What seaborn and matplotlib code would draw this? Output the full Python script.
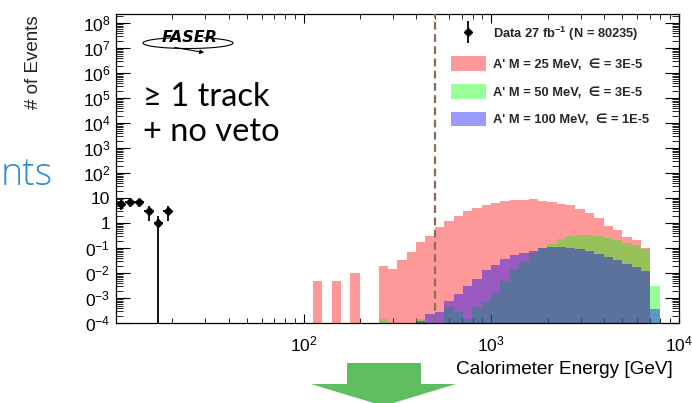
import numpy as np
import pandas as pd
import matplotlib
matplotlib.use("Agg")
import matplotlib.pyplot as plt
import seaborn as sns
from matplotlib.patches import Patch, Polygon, Arc, FancyArrowPatch
from matplotlib.lines import Line2D
from matplotlib.legend_handler import HandlerTuple
from matplotlib.ticker import FixedLocator, FixedFormatter, LogLocator, NullFormatter

# ---------------- data ----------------
# data histogram: log10 bin edges (0.05 decade bins) and observed counts
data_edges_log10 = [1.00, 1.05, 1.10, 1.15, 1.20, 1.25, 1.30]
data_counts = [6, 7, 7, 3, 1, 3]

# signal histograms: log10 bin edges 2.05 ... 3.90 (0.05 decade bins)
sig_edges_log10 = [round(2.05 + 0.05 * i, 2) for i in range(38)]
sig_25MeV = [4.9e-3, 0, 4.9e-3, 0, 1.0e-2, 0, 0, 1.95e-2, 1.48e-2, 3.4e-2,
             6.9e-2, 0.178, 0.31, 0.69, 1.26, 1.9, 3.0, 4.2, 5.4, 6.5,
             7.8, 8.5, 8.9, 9.3, 7.9, 7.1, 5.9, 5.4, 3.7, 2.5,
             1.58, 0.79, 0.54, 0.29, 0.21, 0.105, 0]
sig_50MeV = [0, 0, 0, 0, 0, 0, 0, 1.5e-4, 0, 0,
             0, 1.5e-4, 0, 0, 4.5e-4, 2.8e-4, 1.55e-4, 4.4e-4, 7.2e-4, 1.6e-3,
             5.0e-3, 1.5e-2, 2.75e-2, 6.3e-2, 0.10, 0.15, 0.24, 0.30, 0.35, 0.33,
             0.30, 0.25, 0.21, 0.16, 0.13, 0.093, 3.1e-3]
sig_100MeV = [0, 0, 0, 0, 0, 0, 0, 0, 0, 0,
              0, 1.2e-4, 2.3e-4, 2.9e-4, 7.8e-4, 1.45e-3, 3.2e-3, 6.0e-3, 1.35e-2, 2.2e-2,
              3.7e-2, 5.2e-2, 6.3e-2, 7.9e-2, 0.105, 0.115, 0.11, 0.105, 0.093, 0.078,
              0.060, 0.045, 0.034, 0.024, 0.018, 0.0123, 3.8e-4]

cut_energy_gev = 500

legend_labels = ["Data 27 fb$^{\\mathbf{-1}}$ (N = 80235)",
                 "A' M = 25 MeV,  \u2208 = 3E-5",
                 "A' M = 50 MeV,  \u2208 = 3E-5",
                 "A' M = 100 MeV,  \u2208 = 1E-5"]
sig_colors = ["red", "lime", "blue"]

ytick_exps = list(range(-4, 9))
ytick_labels = ["$\\mathregular{0^{-4}}$", "$\\mathregular{0^{-3}}$",
                "$\\mathregular{0^{-2}}$", "$\\mathregular{0^{-1}}$", "1", "10",
                "$\\mathregular{10^{2}}$", "$\\mathregular{10^{3}}$",
                "$\\mathregular{10^{4}}$", "$\\mathregular{10^{5}}$",
                "$\\mathregular{10^{6}}$", "$\\mathregular{10^{7}}$",
                "$\\mathregular{10^{8}}$"]
xtick_exps = [2, 3, 4]
xtick_labels = ["$\\mathregular{10^{2}}$", "$\\mathregular{10^{3}}$", "$\\mathregular{10^{4}}$"]

# ---------------- style ----------------
sns.set_theme(style="ticks")
plt.rcParams["font.family"] = ["Liberation Sans", "DejaVu Sans"]
plt.rcParams["mathtext.fontset"] = "custom"
plt.rcParams["mathtext.rm"] = "Liberation Sans"
plt.rcParams["mathtext.it"] = "Liberation Sans:italic"
plt.rcParams["mathtext.bf"] = "Liberation Sans:bold"

W_PX, H_PX = 692, 403
fig = plt.figure(figsize=(W_PX / 100, H_PX / 100), dpi=100)
fig.patch.set_facecolor("white")

def fx(x):
    return x / W_PX

def fy(y):
    return 1 - y / H_PX

ax_l, ax_r, ax_t, ax_b = 116, 678.6, 14, 323.3
ax = fig.add_axes([fx(ax_l), fy(ax_b), (ax_r - ax_l) / W_PX, (ax_b - ax_t) / H_PX])
ax.set_facecolor("white")

# ---------------- histograms ----------------
sig_edges = 10 ** np.array(sig_edges_log10)
sig_centers = np.sqrt(sig_edges[:-1] * sig_edges[1:])
for vals, col in zip([sig_25MeV, sig_50MeV, sig_100MeV], sig_colors):
    df = pd.DataFrame({"energy": sig_centers, "w": vals})
    sns.histplot(data=df, x="energy", weights="w", bins=list(sig_edges), element="step",
                 fill=True, color=col, alpha=0.4, linewidth=0, ax=ax, zorder=1)

# ---------------- data ----------------
d_edges = 10 ** np.array(data_edges_log10)
d_centers = np.sqrt(d_edges[:-1] * d_edges[1:])
d_counts = np.array(data_counts, dtype=float)
d_err = np.sqrt(d_counts)
ax.errorbar(d_centers, d_counts, yerr=d_err,
            xerr=[d_centers - d_edges[:-1], d_edges[1:] - d_centers],
            fmt="D", color="black", ms=4, elinewidth=1.3, capsize=0, zorder=6)

ax.axvline(cut_energy_gev, color="#8c6d5a", lw=1.6, ls=(0, (3.5, 2)), zorder=5)

ax.set_xscale("log")
ax.set_yscale("log")
ax.set_xlim(10, 1e4)
ax.set_ylim(1e-4, 10 ** 8.37)
ax.set_xlabel("")
ax.set_ylabel("")

ax.yaxis.set_major_locator(FixedLocator([10.0 ** e for e in ytick_exps]))
ax.yaxis.set_major_formatter(FixedFormatter(ytick_labels))
ax.yaxis.set_minor_locator(LogLocator(base=10, subs=np.arange(2, 10), numticks=200))
ax.yaxis.set_minor_formatter(NullFormatter())
ax.xaxis.set_major_locator(FixedLocator([10.0 ** e for e in xtick_exps]))
ax.xaxis.set_major_formatter(FixedFormatter(xtick_labels))
ax.xaxis.set_minor_locator(LogLocator(base=10, subs=np.arange(2, 10), numticks=200))
ax.xaxis.set_minor_formatter(NullFormatter())

ax.tick_params(axis="both", which="both", direction="in", top=True, right=True,
               colors="black", labelsize=12.5)
ax.tick_params(axis="y", which="major", length=10, width=0.8, pad=4)
ax.tick_params(axis="y", which="minor", length=5, width=0.6)
ax.tick_params(axis="x", which="major", length=6.5, width=0.8, pad=8)
ax.tick_params(axis="x", which="minor", length=3.6, width=0.6)
for s in ax.spines.values():
    s.set_color("black")
    s.set_linewidth(0.9)

# ---------------- legend ----------------
data_handle = (Line2D([], [], marker="|", ms=16, mew=1.3, color="black", ls="none"),
               Line2D([], [], marker="D", ms=4, color="black", ls="none"))
handles = [data_handle] + [Patch(facecolor=c, alpha=0.4, edgecolor="none") for c in sig_colors]
leg = ax.legend(handles, legend_labels, loc="upper left",
                bbox_to_anchor=(fx(450.7), fy(25)), bbox_transform=fig.transFigure,
                frameon=False, borderaxespad=0, borderpad=0,
                handlelength=2.71, handleheight=1.39, labelspacing=1.0,
                handletextpad=0.57,
                handler_map={tuple: HandlerTuple(ndivide=1)},
                prop={"family": ["Liberation Sans", "DejaVu Sans"], "weight": "bold", "size": 9.3})

# ---------------- labels & annotations ----------------
fig.text(fx(673), fy(370), "Calorimeter Energy [GeV]", ha="right", va="center",
         fontsize=13.7, color="black")
fig.text(fx(33), fy(62), "# of Events", rotation=90, ha="center", va="center",
         fontsize=13.5, color="#222222")

fig.text(fx(143), fy(106), "\u2265 1 track", ha="left", va="baseline",
         fontsize=23.5, family=["Lato", "DejaVu Sans"], color="black")
fig.text(fx(143), fy(141), "+ no veto", ha="left", va="baseline",
         fontsize=23.5, family=["Lato", "DejaVu Sans"], color="black")

fig.text(fx(1), fy(185), "nts", ha="left", va="baseline", fontsize=27,
         family=["Open Sans", "DejaVu Sans"], fontweight="light", color="#2a8fd0")

# FASER logo
fig.add_artist(Arc((fx(188), fy(43)), 90 / W_PX, 11 / H_PX, theta1=150, theta2=390,
                   transform=fig.transFigure, color="black", lw=0.8))
fig.text(fx(190), fy(37), "FASER", ha="center", va="center", fontsize=11.5,
         fontweight="bold", fontstyle="italic", family=["DejaVu Sans"], color="black")
fig.add_artist(FancyArrowPatch((fx(172), fy(47)), (fx(207), fy(53)),
                               transform=fig.transFigure, arrowstyle="-|>",
                               mutation_scale=6, color="black", lw=0.8))

# green arrow
arrow_px = [(347, 363), (421, 363), (421, 384), (456, 384), (383.5, 406),
            (311, 384), (347, 384)]
fig.add_artist(Polygon([(fx(x), fy(y)) for x, y in arrow_px], closed=True,
                       transform=fig.transFigure, facecolor="#5fbe5f", edgecolor="none"))

fig.savefig("out.png", dpi=100, facecolor="white")
